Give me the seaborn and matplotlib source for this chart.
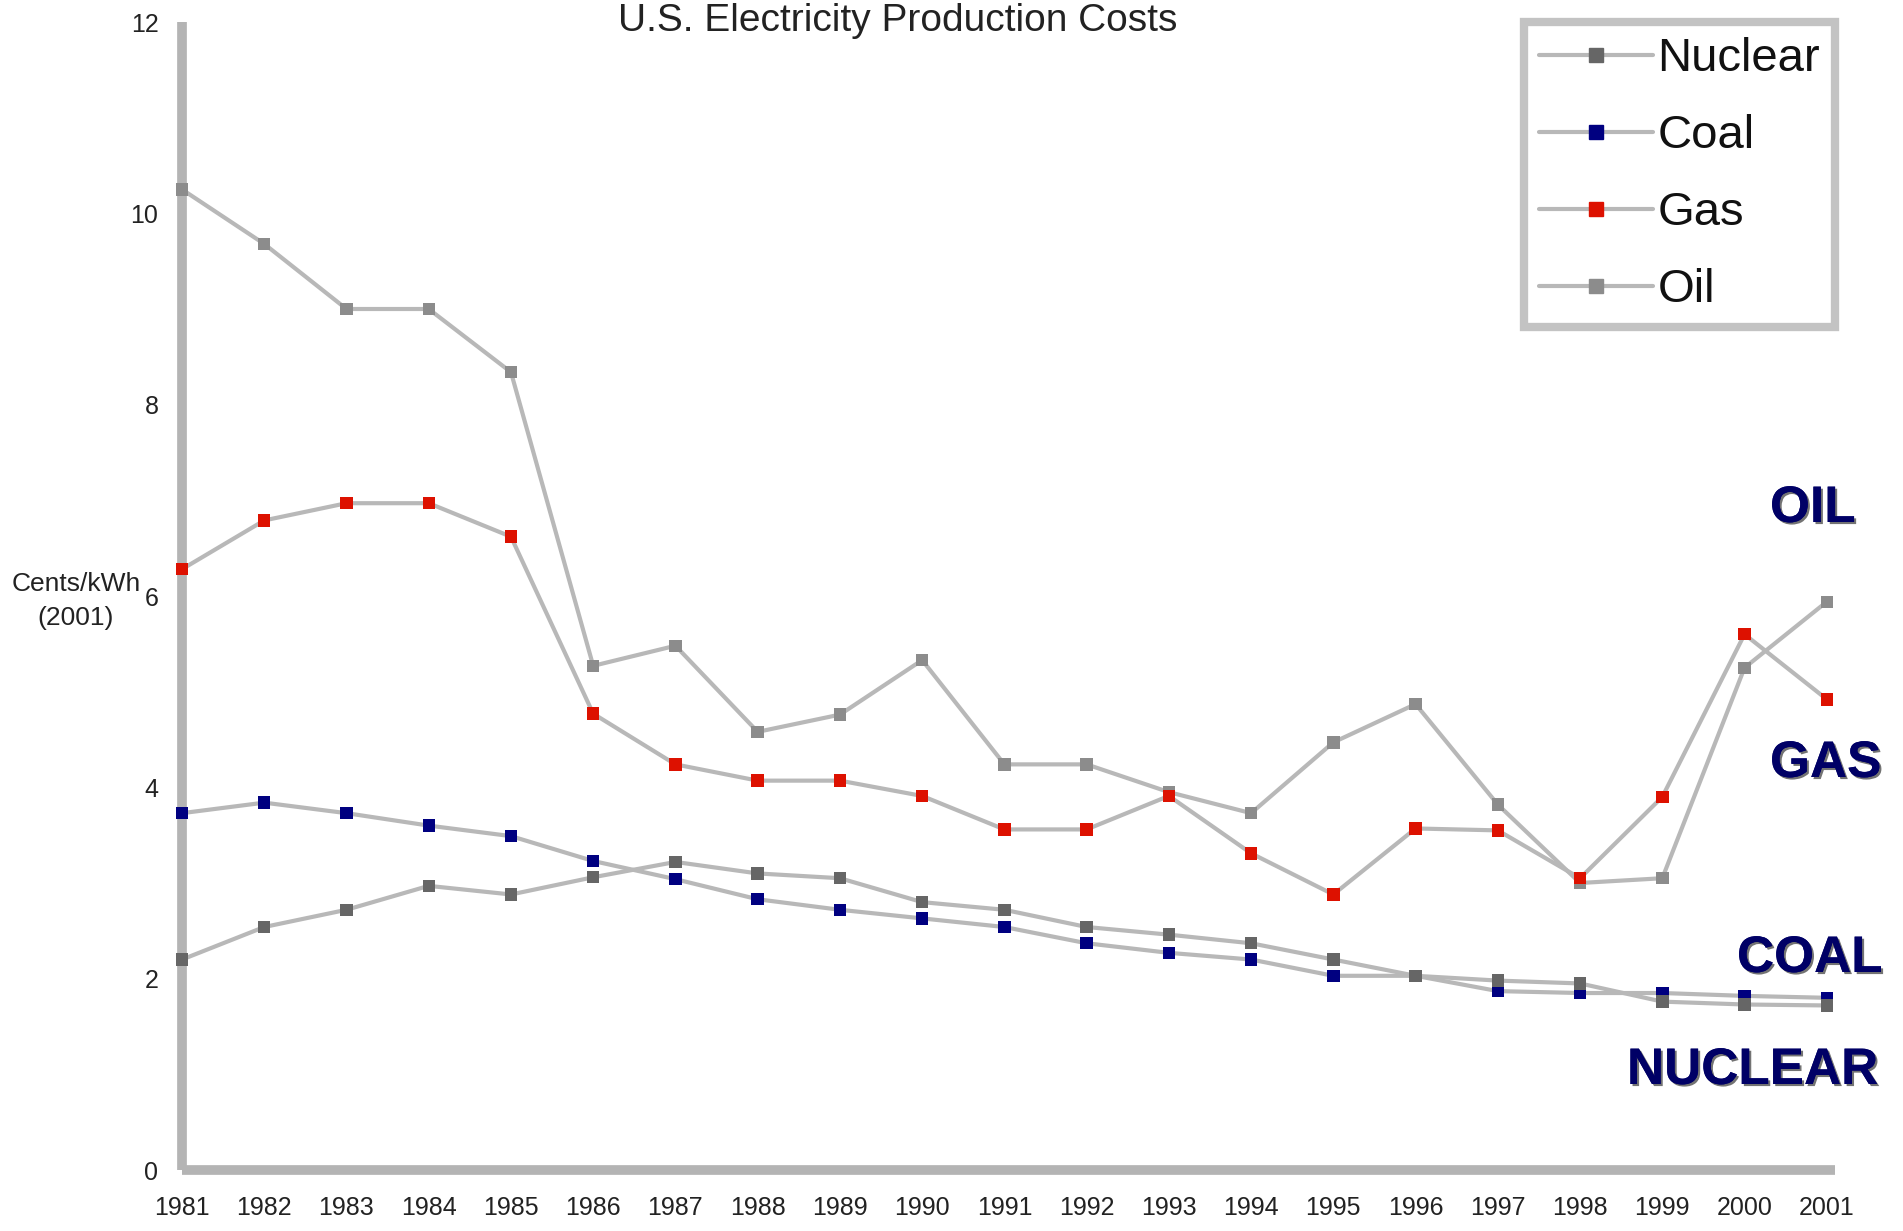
import matplotlib
matplotlib.use("Agg")
import matplotlib.pyplot as plt
import matplotlib.patheffects as pe
from matplotlib.lines import Line2D
import pandas as pd
import seaborn as sns

# Electricity production costs by fuel, cents per kWh (2001 dollars)
years = list(range(1981, 2002))
oil = [10.25, 9.68, 9.00, 9.00, 8.34, 5.27, 5.48, 4.58, 4.76, 5.33, 4.24,
       4.24, 3.95, 3.73, 4.47, 4.87, 3.82, 3.00, 3.05, 5.25, 5.94]
gas = [6.28, 6.79, 6.97, 6.97, 6.62, 4.77, 4.24, 4.07, 4.07, 3.91, 3.56,
       3.56, 3.91, 3.31, 2.88, 3.57, 3.55, 3.05, 3.90, 5.60, 4.92]
coal = [3.73, 3.84, 3.73, 3.60, 3.49, 3.23, 3.04, 2.83, 2.72, 2.63, 2.54,
        2.37, 2.27, 2.20, 2.03, 2.03, 1.87, 1.85, 1.85, 1.82, 1.80]
nuclear = [2.20, 2.54, 2.72, 2.97, 2.88, 3.06, 3.22, 3.10, 3.05, 2.80, 2.72,
           2.54, 2.46, 2.37, 2.20, 2.03, 1.98, 1.95, 1.76, 1.73, 1.72]

legend_order = ["Nuclear", "Coal", "Gas", "Oil"]
marker_colors = {"Nuclear": "#666666", "Coal": "#000080",
                 "Gas": "#dd1100", "Oil": "#8c8c8c"}
y_ticks = [0, 2, 4, 6, 8, 10, 12]

LINE_GRAY = "#b8b8b8"
AXIS_GRAY = "#b4b4b4"
NAVY = "#000066"

sns.set_theme(style="white")
plt.rcParams["font.family"] = ["Liberation Sans", "DejaVu Sans"]

df = pd.DataFrame({"year": years, "Oil": oil, "Gas": gas,
                   "Coal": coal, "Nuclear": nuclear})
long_df = df.melt(id_vars="year", var_name="fuel", value_name="cost")

W, H = 1903, 1231
fig = plt.figure(figsize=(W / 100, H / 100), dpi=100)
ax = fig.add_axes([182 / W, 1 - 1170 / H, (1835 - 182) / W, (1170 - 22) / H])

# gray connecting lines, one per fuel
sns.lineplot(data=long_df, x="year", y="cost", units="fuel", estimator=None,
             color=LINE_GRAY, linewidth=3, ax=ax, zorder=2)
# coloured point markers
sns.scatterplot(data=long_df, x="year", y="cost", hue="fuel",
                palette=marker_colors, marker="s", s=80, linewidth=0,
                legend=False, ax=ax, zorder=3, clip_on=False)

ax.set_xlim(1981, 2001.1)
ax.set_ylim(0, 12)
ax.set_xticks(years)
ax.set_xticklabels([str(y) for y in years])
ax.set_yticks(y_ticks)
ax.set_xlabel("")
ax.set_ylabel("")

for side in ["top", "right"]:
    ax.spines[side].set_visible(False)
for side in ["left", "bottom"]:
    ax.spines[side].set_color(AXIS_GRAY)
    ax.spines[side].set_linewidth(7)
    ax.spines[side].set_capstyle("butt")

ax.tick_params(axis="both", direction="inout", length=10, width=2,
               color="#999999", labelsize=18, labelcolor="#222222")
ax.tick_params(axis="x", pad=14)
ax.tick_params(axis="y", pad=12)

# legend: gray line with the fuel's marker colour
handles = [Line2D([0], [0], color=LINE_GRAY, linewidth=3, marker="s",
                  markersize=10, markerfacecolor=marker_colors[f],
                  markeredgecolor=marker_colors[f]) for f in legend_order]
leg = ax.legend(handles, legend_order, loc="upper right",
                bbox_to_anchor=(1.0, 1.0), frameon=True, fancybox=False,
                fontsize=34, handlelength=2.4, handletextpad=0.1,
                borderpad=0.32, labelspacing=0.7, borderaxespad=0)
leg.get_frame().set_edgecolor(AXIS_GRAY)
leg.get_frame().set_linewidth(6)
for t in leg.get_texts():
    t.set_color("#111111")

# fuel name labels at the right edge
shadow = [pe.withSimplePatchShadow(offset=(1.5, -1.5), shadow_rgbFace="black",
                                   alpha=0.55), pe.Normal()]
end_labels = [("OIL", 1770, 522), ("GAS", 1770, 777),
              ("COAL", 1737, 972), ("NUCLEAR", 1627, 1084)]
for text, px, py in end_labels:
    fig.text(px / W, 1 - py / H, text, ha="left", va="baseline",
             fontsize=37, fontweight="bold", color=NAVY, path_effects=shadow)

# axis caption left of the y ticks
fig.text(76 / W, 1 - 601 / H, "Cents/kWh\n(2001)", ha="center", va="center",
         fontsize=19, color="#222222", linespacing=1.5)

# chart title along the top edge
fig.text(898 / W, 1 - 3 / H, "U.S. Electricity Production Costs",
         ha="center", va="top", fontsize=28, color="#222222")

fig.savefig("out.png", dpi=100, facecolor="white")
